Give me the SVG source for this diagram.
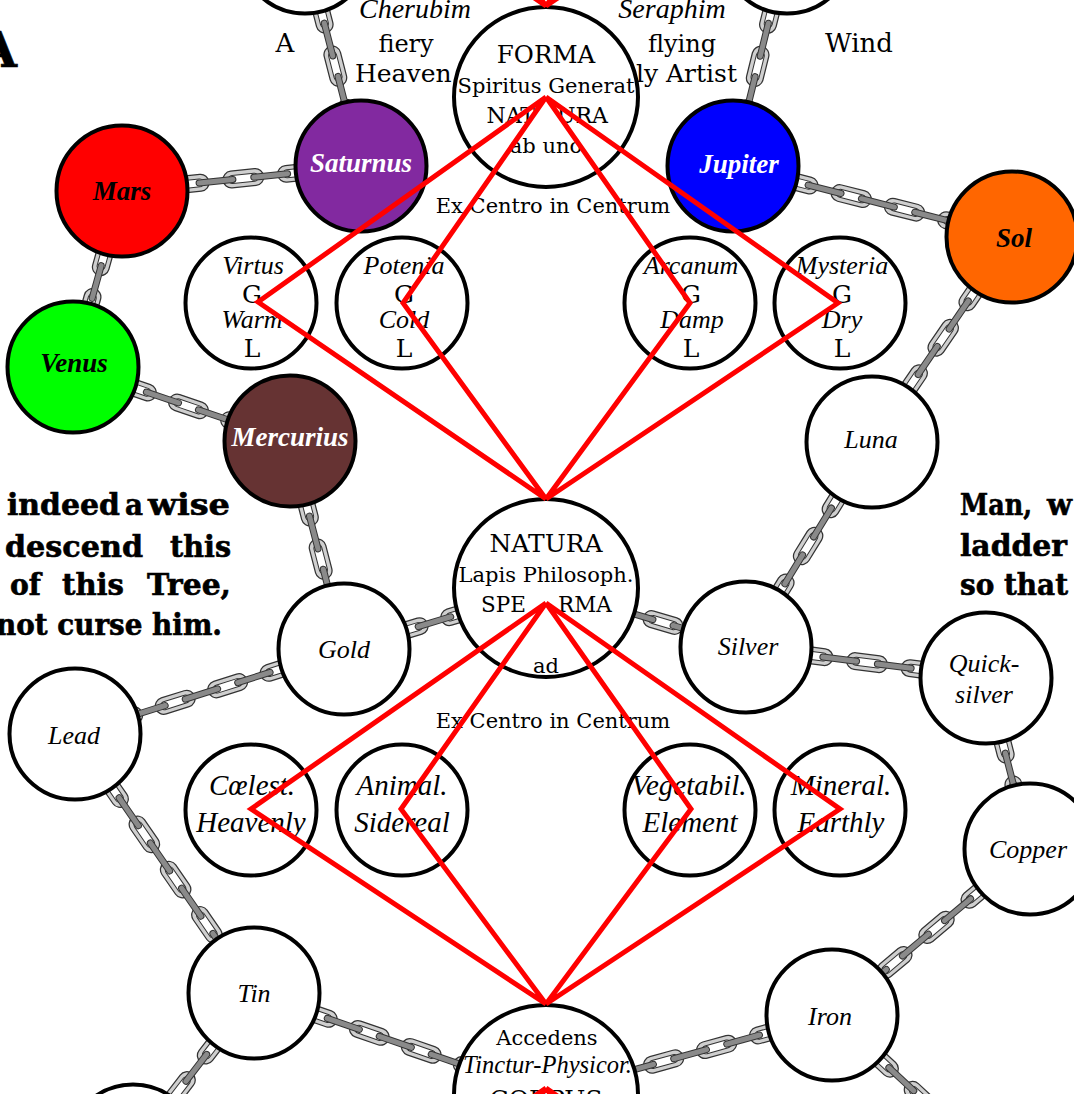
<svg xmlns="http://www.w3.org/2000/svg" width="1074" height="1094" viewBox="0 0 1074 1094">
<style>
.n{fill:#fff;stroke:#000;stroke-width:4}
.r{font-family:"DejaVu Serif",serif;fill:#000;text-anchor:middle}
.i{font-family:"Liberation Serif",serif;font-style:italic;fill:#000;text-anchor:middle}
.bi{font-family:"Liberation Serif",serif;font-style:italic;font-weight:bold;text-anchor:middle;font-size:27px;fill:#000}
.slab{font-family:"DejaVu Serif",serif;font-weight:bold;font-size:29px;fill:#000;stroke:#000;stroke-width:0.6}
.red{fill:none;stroke:#f00;stroke-width:5;stroke-linejoin:miter}
.c1{fill:none;stroke:#333;stroke-width:18;stroke-dasharray:24 31;stroke-linecap:round}
.c2{fill:none;stroke:#cfcfcf;stroke-width:15.5;stroke-dasharray:24 31;stroke-linecap:round}
.c3{fill:none;stroke:#333;stroke-width:9;stroke-dasharray:22 33;stroke-dashoffset:-1;stroke-linecap:round}
.c4{fill:none;stroke:#fff;stroke-width:7;stroke-dasharray:22 33;stroke-dashoffset:-1;stroke-linecap:round}
.c5{fill:none;stroke:#333;stroke-width:7;stroke-dasharray:34 21;stroke-dashoffset:-22.5;stroke-linecap:round}
.c6{fill:none;stroke:#8a8a8a;stroke-width:5;stroke-dasharray:34 21;stroke-dashoffset:-22.5;stroke-linecap:round}
</style>
<defs>
<path id="p1" d="M305,-52 L361,166"/>
<path id="p2" d="M787,-52 L733,166"/>
<path id="p3" d="M122,191 L361,166"/>
<path id="p4" d="M733,166 L1012,237"/>
<path id="p5" d="M122,191 L73,367"/>
<path id="p6" d="M73,367 L290,441"/>
<path id="p7" d="M1012,237 L872,442"/>
<path id="p8" d="M290,441 L344,649"/>
<path id="p9" d="M872,442 L746,647"/>
<path id="p10" d="M344,649 L546,588"/>
<path id="p11" d="M546,588 L746,647"/>
<path id="p12" d="M344,649 L75,734"/>
<path id="p13" d="M746,647 L986,678"/>
<path id="p14" d="M75,734 L254,993"/>
<path id="p15" d="M986,678 L1030,849"/>
<path id="p16" d="M254,993 L546,1094"/>
<path id="p17" d="M546,1094 L832,1015"/>
<path id="p18" d="M1030,849 L832,1015"/>
<path id="p19" d="M254,993 L133,1150"/>
<path id="p20" d="M832,1015 L1010,1180"/>
</defs>

<g id="connectors">
<g id="chain-top-left-saturnus"><use href="#p1" class="c1"/><use href="#p1" class="c2"/><use href="#p1" class="c3"/><use href="#p1" class="c4"/><use href="#p1" class="c5"/><use href="#p1" class="c6"/></g>
<g id="chain-top-right-jupiter"><use href="#p2" class="c1"/><use href="#p2" class="c2"/><use href="#p2" class="c3"/><use href="#p2" class="c4"/><use href="#p2" class="c5"/><use href="#p2" class="c6"/></g>
<g id="chain-mars-saturnus"><use href="#p3" class="c1"/><use href="#p3" class="c2"/><use href="#p3" class="c3"/><use href="#p3" class="c4"/><use href="#p3" class="c5"/><use href="#p3" class="c6"/></g>
<g id="chain-jupiter-sol"><use href="#p4" class="c1"/><use href="#p4" class="c2"/><use href="#p4" class="c3"/><use href="#p4" class="c4"/><use href="#p4" class="c5"/><use href="#p4" class="c6"/></g>
<g id="chain-mars-venus"><use href="#p5" class="c1"/><use href="#p5" class="c2"/><use href="#p5" class="c3"/><use href="#p5" class="c4"/><use href="#p5" class="c5"/><use href="#p5" class="c6"/></g>
<g id="chain-venus-mercurius"><use href="#p6" class="c1"/><use href="#p6" class="c2"/><use href="#p6" class="c3"/><use href="#p6" class="c4"/><use href="#p6" class="c5"/><use href="#p6" class="c6"/></g>
<g id="chain-sol-luna"><use href="#p7" class="c1"/><use href="#p7" class="c2"/><use href="#p7" class="c3"/><use href="#p7" class="c4"/><use href="#p7" class="c5"/><use href="#p7" class="c6"/></g>
<g id="chain-mercurius-gold"><use href="#p8" class="c1"/><use href="#p8" class="c2"/><use href="#p8" class="c3"/><use href="#p8" class="c4"/><use href="#p8" class="c5"/><use href="#p8" class="c6"/></g>
<g id="chain-luna-silver"><use href="#p9" class="c1"/><use href="#p9" class="c2"/><use href="#p9" class="c3"/><use href="#p9" class="c4"/><use href="#p9" class="c5"/><use href="#p9" class="c6"/></g>
<g id="chain-gold-natura"><use href="#p10" class="c1"/><use href="#p10" class="c2"/><use href="#p10" class="c3"/><use href="#p10" class="c4"/><use href="#p10" class="c5"/><use href="#p10" class="c6"/></g>
<g id="chain-natura-silver"><use href="#p11" class="c1"/><use href="#p11" class="c2"/><use href="#p11" class="c3"/><use href="#p11" class="c4"/><use href="#p11" class="c5"/><use href="#p11" class="c6"/></g>
<g id="chain-gold-lead"><use href="#p12" class="c1"/><use href="#p12" class="c2"/><use href="#p12" class="c3"/><use href="#p12" class="c4"/><use href="#p12" class="c5"/><use href="#p12" class="c6"/></g>
<g id="chain-silver-quicksilver"><use href="#p13" class="c1"/><use href="#p13" class="c2"/><use href="#p13" class="c3"/><use href="#p13" class="c4"/><use href="#p13" class="c5"/><use href="#p13" class="c6"/></g>
<g id="chain-lead-tin"><use href="#p14" class="c1"/><use href="#p14" class="c2"/><use href="#p14" class="c3"/><use href="#p14" class="c4"/><use href="#p14" class="c5"/><use href="#p14" class="c6"/></g>
<g id="chain-quicksilver-copper"><use href="#p15" class="c1"/><use href="#p15" class="c2"/><use href="#p15" class="c3"/><use href="#p15" class="c4"/><use href="#p15" class="c5"/><use href="#p15" class="c6"/></g>
<g id="chain-tin-corpus"><use href="#p16" class="c1"/><use href="#p16" class="c2"/><use href="#p16" class="c3"/><use href="#p16" class="c4"/><use href="#p16" class="c5"/><use href="#p16" class="c6"/></g>
<g id="chain-corpus-iron"><use href="#p17" class="c1"/><use href="#p17" class="c2"/><use href="#p17" class="c3"/><use href="#p17" class="c4"/><use href="#p17" class="c5"/><use href="#p17" class="c6"/></g>
<g id="chain-copper-iron"><use href="#p18" class="c1"/><use href="#p18" class="c2"/><use href="#p18" class="c3"/><use href="#p18" class="c4"/><use href="#p18" class="c5"/><use href="#p18" class="c6"/></g>
<g id="chain-tin-below"><use href="#p19" class="c1"/><use href="#p19" class="c2"/><use href="#p19" class="c3"/><use href="#p19" class="c4"/><use href="#p19" class="c5"/><use href="#p19" class="c6"/></g>
<g id="chain-iron-below"><use href="#p20" class="c1"/><use href="#p20" class="c2"/><use href="#p20" class="c3"/><use href="#p20" class="c4"/><use href="#p20" class="c5"/><use href="#p20" class="c6"/></g>
</g>

<g id="side-texts">
<text class="slab" x="17" y="67" style="text-anchor:end;font-size:48px">A</text>
<text class="r" x="285" y="52" font-size="26">A</text>
<text class="i" x="415" y="18" font-size="28">Cherubim</text>
<text class="r" x="406" y="52" font-size="24">fiery</text>
<text class="r" x="355" y="82" font-size="25" style="text-anchor:start">Heaven</text>
<text class="i" x="672" y="18" font-size="28">Seraphim</text>
<text class="r" x="682" y="52" font-size="24">flying</text>
<text class="r" x="636" y="82" font-size="25" style="text-anchor:start">ly Artist</text>
<text class="r" x="825" y="52" font-size="26" style="text-anchor:start">Wind</text>
<text class="slab" y="515"><tspan x="7" textLength="113" lengthAdjust="spacingAndGlyphs">indeed</tspan><tspan x="125" textLength="18" lengthAdjust="spacingAndGlyphs">a</tspan><tspan x="148" textLength="82" lengthAdjust="spacingAndGlyphs">wise</tspan></text>
<text class="slab" y="557"><tspan x="5" textLength="138" lengthAdjust="spacingAndGlyphs">descend</tspan><tspan x="170" textLength="61" lengthAdjust="spacingAndGlyphs">this</tspan></text>
<text class="slab" y="595"><tspan x="10" textLength="31" lengthAdjust="spacingAndGlyphs">of</tspan><tspan x="62" textLength="62" lengthAdjust="spacingAndGlyphs">this</tspan><tspan x="147" textLength="84" lengthAdjust="spacingAndGlyphs">Tree,</tspan></text>
<text class="slab" x="-4" y="635" textLength="226" lengthAdjust="spacingAndGlyphs">not curse him.</text>
<text class="slab" y="515"><tspan x="960" textLength="72" lengthAdjust="spacingAndGlyphs">Man,</tspan><tspan x="1047">w</tspan></text>
<text class="slab" x="960" y="556" textLength="107" lengthAdjust="spacingAndGlyphs">ladder</text>
<text class="slab" x="960" y="595" textLength="108" lengthAdjust="spacingAndGlyphs">so that</text>
</g>

<g id="node-top-left"><circle class="n" cx="305" cy="-52" r="65.5"/></g>
<g id="node-top-right"><circle class="n" cx="787" cy="-52" r="65.5"/></g>

<g id="node-forma">
<ellipse class="n" cx="546" cy="97" rx="92" ry="90"/>
<text class="r" x="546" y="63" font-size="24.5">FORMA</text>
<text class="r" x="546" y="93" font-size="21">Spiritus Generat</text>
<text class="r" x="535" y="123" font-size="22" style="text-anchor:end">NAT</text>
<text class="r" x="557" y="123" font-size="22" style="text-anchor:start">URA</text>
<text class="r" x="546" y="153" font-size="21">ab uno</text>
</g>
<text class="r" x="553" y="213" font-size="21">Ex Centro in Centrum</text>

<g id="node-saturnus"><circle class="n" cx="361" cy="166" r="65.5" style="fill:#8229a0"/><text class="bi" x="361" y="172" style="fill:#fff">Saturnus</text></g>
<g id="node-jupiter"><circle class="n" cx="733" cy="166" r="65.5" style="fill:#0000ff"/><text class="bi" x="739" y="173" style="fill:#fff">Jupiter</text></g>
<g id="node-mars"><circle class="n" cx="122" cy="191" r="65.5" style="fill:#ff0000"/><text class="bi" x="122" y="200">Mars</text></g>
<g id="node-sol"><circle class="n" cx="1012" cy="237" r="65.5" style="fill:#ff6600"/><text class="bi" x="1014" y="247">Sol</text></g>
<g id="node-venus"><circle class="n" cx="73" cy="367" r="65.5" style="fill:#00ff00"/><text class="bi" x="74" y="372">Venus</text></g>
<g id="node-mercurius"><circle class="n" cx="290" cy="441" r="65.5" style="fill:#663333"/><text class="bi" x="290" y="446" style="fill:#fff">Mercurius</text></g>
<g id="node-luna"><circle class="n" cx="872" cy="442" r="65.5"/><text class="i" x="871" y="448" font-size="26">Luna</text></g>

<g id="node-virtus"><circle class="n" cx="251" cy="303" r="65.5"/>
<text class="i" x="253" y="274" font-size="26">Virtus</text><text class="r" x="252" y="303" font-size="25">G</text>
<text class="i" x="252" y="328" font-size="26">Warm</text><text class="r" x="252" y="357" font-size="25">L</text></g>
<g id="node-potenia"><circle class="n" cx="402" cy="303" r="65.5"/>
<text class="i" x="404" y="274" font-size="26">Potenia</text><text class="r" x="404" y="303" font-size="25">G</text>
<text class="i" x="404" y="328" font-size="26">Cold</text><text class="r" x="404" y="357" font-size="25">L</text></g>
<g id="node-arcanum"><circle class="n" cx="690" cy="303" r="65.5"/>
<text class="i" x="691" y="274" font-size="26">Arcanum</text><text class="r" x="691" y="303" font-size="25">G</text>
<text class="i" x="692" y="328" font-size="26">Damp</text><text class="r" x="691" y="357" font-size="25">L</text></g>
<g id="node-mysteria"><circle class="n" cx="840" cy="303" r="65.5"/>
<text class="i" x="842" y="274" font-size="26">Mysteria</text><text class="r" x="842" y="303" font-size="25">G</text>
<text class="i" x="842" y="328" font-size="26">Dry</text><text class="r" x="842" y="357" font-size="25">L</text></g>

<g id="node-natura">
<ellipse class="n" cx="546" cy="588" rx="92" ry="89"/>
<text class="r" x="546" y="552" font-size="25">NATURA</text>
<text class="r" x="546" y="582" font-size="21">Lapis Philosoph.</text>
<text class="r" x="526" y="612" font-size="21.5" style="text-anchor:end">SPE</text>
<text class="r" x="558" y="612" font-size="21.5" style="text-anchor:start">RMA</text>
<text class="r" x="546" y="673" font-size="21">ad</text>
</g>
<text class="r" x="553" y="728" font-size="21">Ex Centro in Centrum</text>

<g id="node-gold"><circle class="n" cx="344" cy="649" r="65.5"/><text class="i" x="344" y="658" font-size="26">Gold</text></g>
<g id="node-silver"><circle class="n" cx="746" cy="647" r="65.5"/><text class="i" x="748" y="655" font-size="26">Silver</text></g>
<g id="node-quicksilver"><circle class="n" cx="986" cy="678" r="65.5"/><text class="i" x="984" y="672" font-size="26">Quick-</text><text class="i" x="984" y="703" font-size="26">silver</text></g>
<g id="node-lead"><circle class="n" cx="75" cy="734" r="65.5"/><text class="i" x="74" y="744" font-size="26">Lead</text></g>
<g id="node-copper"><circle class="n" cx="1030" cy="849" r="65.5"/><text class="i" x="1028" y="858" font-size="26">Copper</text></g>

<g id="node-caelest"><circle class="n" cx="251" cy="810" r="65.5"/>
<text class="i" x="252" y="795" font-size="29">Cœlest.</text><text class="i" x="251" y="832" font-size="29">Heavenly</text></g>
<g id="node-animal"><circle class="n" cx="402" cy="810" r="65.5"/>
<text class="i" x="402" y="795" font-size="29">Animal.</text><text class="i" x="402" y="832" font-size="29">Sidereal</text></g>
<g id="node-vegetabil"><circle class="n" cx="690" cy="810" r="65.5"/>
<text class="i" x="689" y="795" font-size="29">Vegetabil.</text><text class="i" x="690" y="832" font-size="29">Element</text></g>
<g id="node-mineral"><circle class="n" cx="840" cy="810" r="65.5"/>
<text class="i" x="841" y="795" font-size="29">Mineral.</text><text class="i" x="841" y="832" font-size="29">Earthly</text></g>

<g id="node-tin"><circle class="n" cx="254" cy="993" r="65.5"/><text class="i" x="254" y="1002" font-size="26">Tin</text></g>
<g id="node-iron"><circle class="n" cx="832" cy="1015" r="65.5"/><text class="i" x="830" y="1025" font-size="26">Iron</text></g>
<g id="node-bottom-left"><circle class="n" cx="133" cy="1150" r="65.5"/></g>

<g id="node-corpus">
<ellipse class="n" cx="546" cy="1094" rx="92" ry="89"/>
<text class="r" x="547" y="1045" font-size="21">Accedens</text>
<text class="i" x="463" y="1073" font-size="24.5" style="text-anchor:start">Tinctur-Physicor.</text>
<text class="r" x="546" y="1108" font-size="25">CORPUS</text>
</g>

<g id="red-lines">
<path class="red" d="M258,-193 L546,6 L403,-193 M690,-193 L546,6 L838,-193"/>
<path class="red" d="M546,97 L258,302 L546,499 M546,97 L403,303 L546,499 M546,97 L690,303 L546,499 M546,97 L838,303 L546,499"/>
<path class="red" d="M546,603 L251,809 L546,1004 M546,603 L401,809 L546,1004 M546,603 L691,809 L546,1004 M546,603 L840,809 L546,1004"/>
<path class="red" d="M546,1088 L251,1294 M546,1088 L401,1294 M546,1088 L691,1294 M546,1088 L840,1294"/>
</g>
</svg>
